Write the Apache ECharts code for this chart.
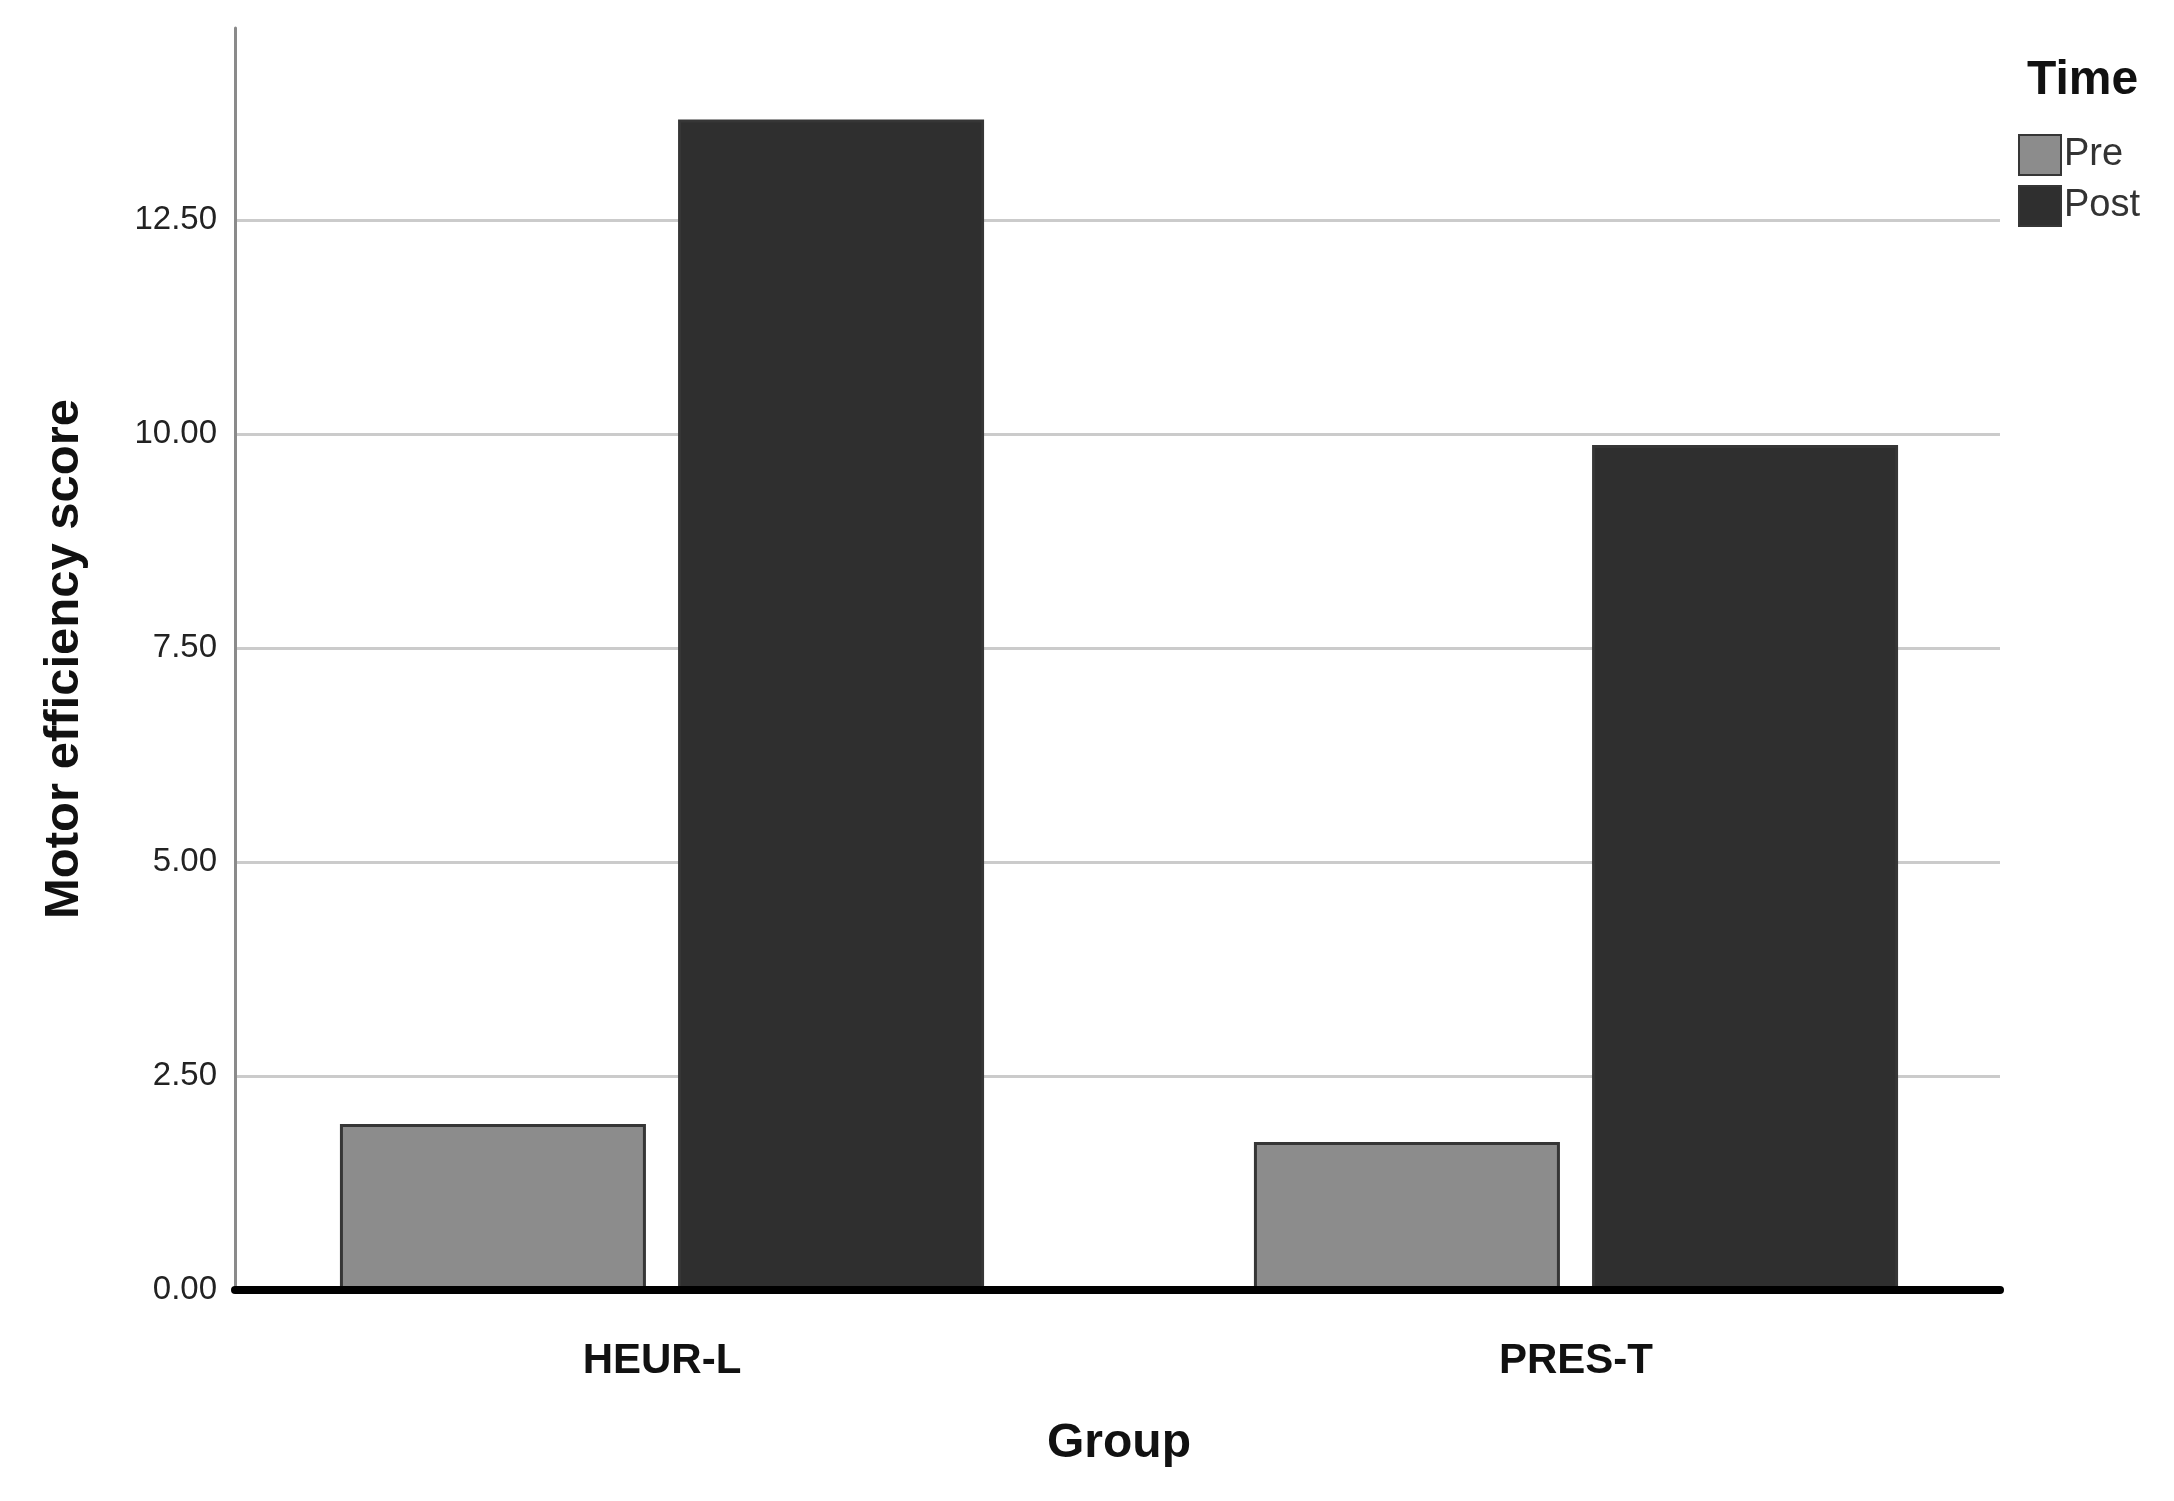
<!DOCTYPE html>
<html>
<head>
<meta charset="utf-8">
<title>Motor efficiency score by group</title>
<script src="https://cdn.jsdelivr.net/npm/echarts@6/dist/echarts.min.js"></script>
<style>
  html, body { margin: 0; padding: 0; background: #fff; }
  #chart { width: 2174px; height: 1501px; }
</style>
</head>
<body>
<div id="chart"></div>
<script>
const groups = ['HEUR-L', 'PRES-T']
const timePoints = ['Pre', 'Post']
const preScores = [1.94, 1.73]
const postScores = [13.67, 9.87]
const yTicks = [0, 2.5, 5, 7.5, 10, 12.5]
const yMax = 14.74

const font = "'Liberation Sans', Arial, sans-serif"
const preColor = '#8c8c8c'
const postColor = '#2f2f2f'
const borderColor = '#363636'

const chart = echarts.init(document.getElementById('chart'))

chart.setOption({
  backgroundColor: '#ffffff',
  animation: false,
  textStyle: { fontFamily: font },
  title: {
    text: 'Time',
    left: 2022,
    top: 52,
    textStyle: { fontFamily: font, fontSize: 48, fontWeight: 'bold', color: '#111' },
  },
  legend: {
    data: timePoints,
    orient: 'vertical',
    left: 2013,
    top: 129,
    icon: 'rect',
    itemWidth: 42,
    itemHeight: 40,
    itemGap: 9,
    textStyle: { fontFamily: font, fontSize: 38, color: '#333', padding: [0, 0, 0, -2] },
  },
  // grid 0 carries the visible axes, grid 1 positions the bars
  grid: [
    { left: 235, right: 174, top: 28, bottom: 211 },
    { left: 205, right: 141, top: 28, bottom: 211 },
  ],
  xAxis: [
    {
      gridIndex: 0,
      type: 'category',
      data: groups,
      z: 5,
      axisLine: { lineStyle: { color: '#000', width: 8 } },
      axisTick: { show: false },
      axisLabel: { show: false },
      splitLine: { show: false },
    },
    {
      gridIndex: 1,
      type: 'category',
      data: groups,
      axisLine: { show: false },
      axisTick: { show: false },
      axisLabel: {
        margin: 50,
        fontFamily: font,
        fontSize: 42,
        fontWeight: 'bold',
        color: '#111',
      },
      name: 'Group',
      nameLocation: 'middle',
      nameGap: 130,
      nameTextStyle: { fontFamily: font, fontSize: 48, fontWeight: 'bold', color: '#111' },
    },
  ],
  yAxis: [
    {
      gridIndex: 0,
      type: 'value',
      min: yTicks[0],
      max: yMax,
      interval: yTicks[1] - yTicks[0],
      axisLine: { show: true, lineStyle: { color: '#8a8a8a', width: 3 } },
      axisTick: { show: false },
      axisLabel: {
        margin: 18,
        fontFamily: font,
        fontSize: 33,
        color: '#222',
        showMaxLabel: false,
        formatter: (value) => value.toFixed(2),
      },
      splitLine: {
        show: true,
        showMinLine: false,
        showMaxLine: false,
        lineStyle: { color: '#cbcbcb', width: 3 },
      },
      name: 'Motor efficiency score',
      nameLocation: 'middle',
      nameRotate: 90,
      nameGap: 146,
      nameTextStyle: { fontFamily: font, fontSize: 49, fontWeight: 'bold', color: '#111' },
    },
    {
      gridIndex: 1,
      type: 'value',
      min: yTicks[0],
      max: yMax,
      show: false,
      splitLine: { show: false },
    },
  ],
  series: [
    {
      name: timePoints[0],
      type: 'bar',
      xAxisIndex: 1,
      yAxisIndex: 1,
      data: preScores,
      barWidth: 306,
      barGap: '10.5%',
      itemStyle: { color: preColor, borderColor: borderColor, borderWidth: 3 },
    },
    {
      name: timePoints[1],
      type: 'bar',
      xAxisIndex: 1,
      yAxisIndex: 1,
      data: postScores,
      barWidth: 306,
      barGap: '10.5%',
      itemStyle: { color: postColor, borderColor: borderColor, borderWidth: 3 },
    },
  ],
})
</script>
</body>
</html>
